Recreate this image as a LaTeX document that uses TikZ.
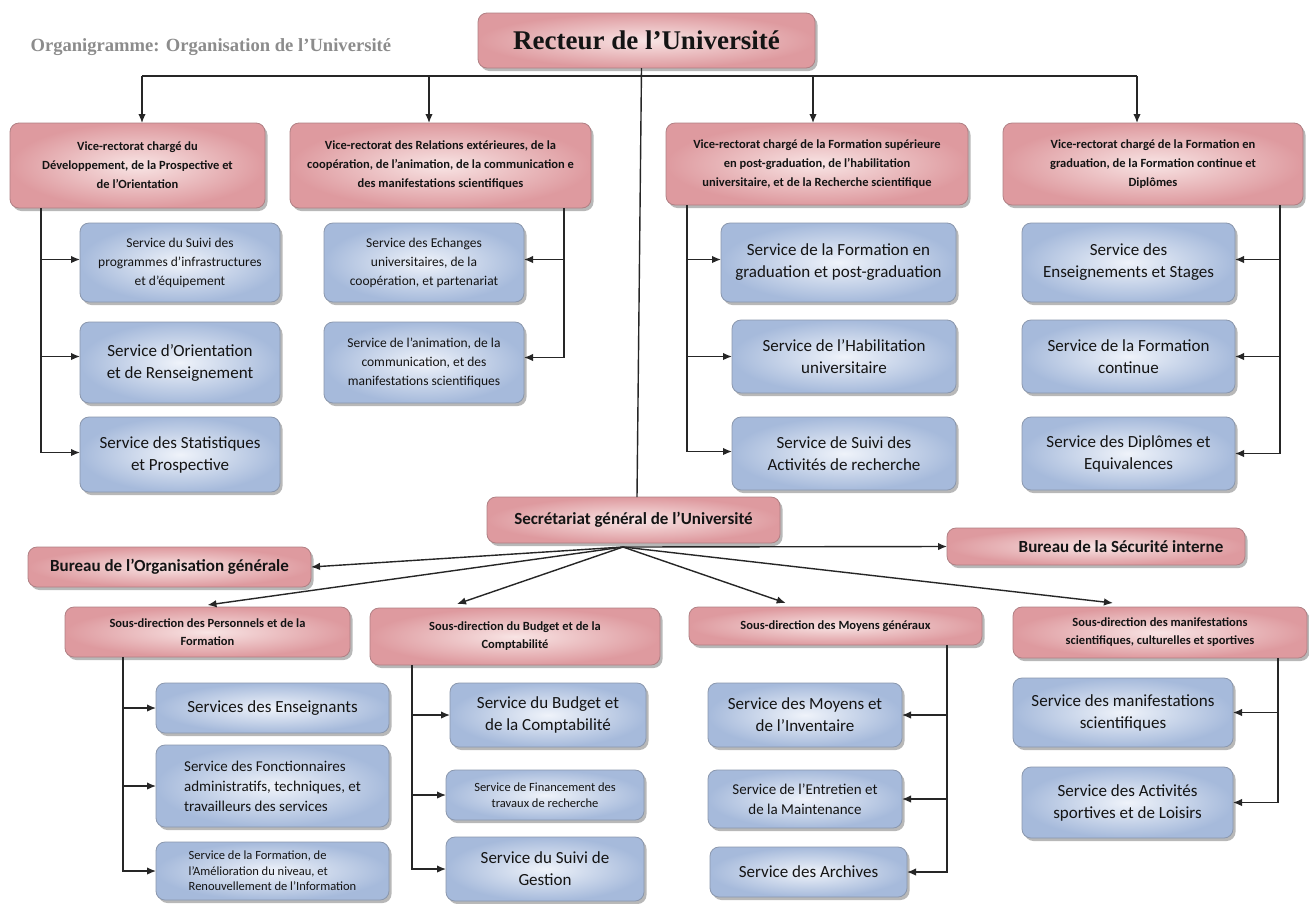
\documentclass[tikz,border=0pt]{standalone}
\usepackage{fontspec}
\setmainfont{Carlito}
\newfontfamily\serifb{Liberation Serif}
\usetikzlibrary{arrows.meta,shadows,calc}
\definecolor{pinkL}{HTML}{F8E4E4}
\definecolor{pinkD}{HTML}{DE9A9F}
\definecolor{pinkB}{HTML}{B08084}
\definecolor{blueL}{HTML}{EFF3FA}
\definecolor{blueD}{HTML}{A6BADB}
\definecolor{blueB}{HTML}{8A97AD}
\tikzset{
  box/.style={rounded corners=9pt, inner sep=2pt, outer sep=0pt, align=center, text=black!92,
    drop shadow={shadow xshift=2.5pt,shadow yshift=-3pt,opacity=0.5,fill=black!55}},
  pinkbox/.style={box, draw=pinkB, line width=0.8pt, inner color=pinkL, outer color=pinkD},
  bluebox/.style={box, draw=blueB, line width=0.8pt, inner color=blueL, outer color=blueD},
  arr/.style={-{Latex[length=9pt,width=7.5pt]}, line width=1.4pt, draw=black!85},
  ln/.style={line width=1.4pt, draw=black!85},
  vr/.style={font=\bfseries\fontsize{12.5}{19}\selectfont},
  sd/.style={font=\bfseries\fontsize{12.5}{18}\selectfont},
  bur/.style={font=\bfseries\fontsize{17}{20}\selectfont},
  big/.style={font=\fontsize{17}{22}\selectfont},
  mid/.style={font=\fontsize{15}{20}\selectfont},
  sml/.style={font=\fontsize{13.5}{19}\selectfont},
  tiny/.style={font=\fontsize{12.5}{15.5}\selectfont},
}
\begin{document}
\begin{tikzpicture}[x=1pt,y=-1pt]
\fill[white] (0,0) rectangle (1309,903);
\useasboundingbox (0,0) rectangle (1309,903);

% title
\node[anchor=west, text=black!45, font=\serifb\bfseries\fontsize{18.6}{21}\selectfont] (title) at (27,47) {Organigramme: Organisation de l’Université};

% rector
\node[pinkbox, minimum width=337pt, minimum height=55pt, font=\serifb\bfseries\fontsize{27}{30}\selectfont] (rect) at (646.5,40.5) {Recteur de l’Université};

% vice-rectorats
\node[pinkbox, vr, minimum width=255pt, minimum height=85pt] (v1) at (137.5,165.5) {Vice-rectorat chargé du\\Développement, de la Prospective et\\de l’Orientation};
\node[pinkbox, vr, minimum width=301pt, minimum height=85pt] (v2) at (440.5,165.5) {Vice-rectorat des Relations extérieures, de la\\coopération, de l’animation, de la communication e\\des manifestations scientifiques};
\node[pinkbox, vr, minimum width=302pt, minimum height=82pt] (v3) at (817,164) {Vice-rectorat chargé de la Formation supérieure\\en post-graduation, de l’habilitation\\universitaire, et de la Recherche scientifique};
\node[pinkbox, vr, minimum width=300pt, minimum height=82pt] (v4) at (1153,164) {Vice-rectorat chargé de la Formation en\\graduation, de la Formation continue et\\Diplômes};

% services, upper level
\node[bluebox, sml, minimum width=200pt, minimum height=79pt] (s1a) at (180,262.5) {Service du Suivi des\\programmes d’infrastructures\\et d’équipement};
\node[bluebox, big, minimum width=200pt, minimum height=81pt] (s1b) at (180,362.5) {Service d’Orientation\\et de Renseignement};
\node[bluebox, big, minimum width=200pt, minimum height=75pt] (s1c) at (180,454.5) {Service des Statistiques\\et Prospective};

\node[bluebox, sml, minimum width=200pt, minimum height=79pt] (s2a) at (424,262.5) {Service des Echanges\\universitaires, de la\\coopération, et partenariat};
\node[bluebox, sml, minimum width=200pt, minimum height=81pt] (s2b) at (424,362.5) {Service de l’animation, de la\\communication, et des\\manifestations scientifiques};

\node[bluebox, big, minimum width=235pt, minimum height=79pt] (s3a) at (838.5,262.5) {Service de la Formation en\\graduation et post-graduation};
\node[bluebox, big, minimum width=224pt, minimum height=73pt] (s3b) at (844,356.5) {Service de l’Habilitation\\universitaire};
\node[bluebox, big, minimum width=224pt, minimum height=73pt] (s3c) at (844,453.5) {Service de Suivi des\\Activités de recherche};

\node[bluebox, big, minimum width=213pt, minimum height=79pt] (s4a) at (1128.5,262.5) {Service des\\Enseignements et Stages};
\node[bluebox, big, minimum width=213pt, minimum height=73pt] (s4b) at (1128.5,356.5) {Service de la Formation\\continue};
\node[bluebox, big, minimum width=213pt, minimum height=73pt] (s4c) at (1128.5,453.5) {Service des Diplômes et\\Equivalences};

% secretariat
\node[pinkbox, bur, minimum width=293pt, minimum height=46pt] (sec) at (633.5,520) {Secrétariat général de l’Université};
\node[pinkbox, bur, minimum width=283pt, minimum height=40pt] (bo) at (169.5,567) {Bureau de l’Organisation générale};
\node[pinkbox, bur, minimum width=298pt, minimum height=37pt] (bs) at (1096,546.5) {\hspace*{50pt}Bureau de la Sécurité interne};

\node[pinkbox, sd, minimum width=285pt, minimum height=50pt] (d1) at (207.5,632) {Sous-direction des Personnels et de la\\Formation};
\node[pinkbox, sd, minimum width=290pt, minimum height=57pt] (d2) at (515,636.5) {Sous-direction du Budget et de la\\Comptabilité};
\node[pinkbox, sd, minimum width=293pt, minimum height=38pt] (d3) at (835.5,626) {Sous-direction des Moyens généraux};
\node[pinkbox, sd, minimum width=294pt, minimum height=51pt] (d4) at (1160,632.5) {Sous-direction des manifestations\\scientifiques, culturelles et sportives};

% services, lower level
\node[bluebox, big, minimum width=233pt, minimum height=50pt] (e1a) at (272.5,708) {Services des Enseignants};
\node[bluebox, mid, align=left, minimum width=233pt, minimum height=82pt] (e1b) at (272.5,786) {Service des Fonctionnaires\\administratifs, techniques, et\\travailleurs des services};
\node[bluebox, tiny, align=left, minimum width=233pt, minimum height=58pt] (e1c) at (272.5,871) {Service de la Formation, de\\l’Amélioration du niveau, et\\Renouvellement de l’Information};

\node[bluebox, big, minimum width=196pt, minimum height=64pt] (e2a) at (548,715) {Service du Budget et\\de la Comptabilité};
\node[bluebox, tiny, minimum width=198pt, minimum height=50pt] (e2b) at (545,795) {Service de Financement des\\travaux de recherche};
\node[bluebox, big, minimum width=198pt, minimum height=64pt] (e2c) at (545,869) {Service du Suivi de\\Gestion};

\node[bluebox, big, minimum width=194pt, minimum height=64pt] (e3a) at (805,715) {Service des Moyens et\\de l’Inventaire};
\node[bluebox, mid, minimum width=194pt, minimum height=58pt] (e3b) at (805,799) {Service de l’Entretien et\\de la Maintenance};
\node[bluebox, big, minimum width=197pt, minimum height=50pt] (e3c) at (808.5,872) {Service des Archives};

\node[bluebox, big, minimum width=220pt, minimum height=69pt] (e4a) at (1123,712.5) {Service des manifestations\\scientifiques};
\node[bluebox, big, minimum width=211pt, minimum height=71pt] (e4b) at (1127.5,802.5) {Service des Activités\\sportives et de Loisirs};

% ---- connectors: rector level
\coordinate (hl) at (142,76);
\coordinate (hr) at (1137,76);
\coordinate (h2) at (429,76);
\coordinate (h3) at (813,76);
\draw[ln] (hl) -- (hr);
\draw[arr] (hl) -- (hl |- v1.north);
\draw[arr] (h2) -- (h2 |- v2.north);
\draw[arr] (h3) -- (h3 |- v3.north);
\draw[arr] (hr) -- (hr |- v4.north);
\draw[ln] ([xshift=-5pt]rect.south) -- ([xshift=3.5pt]sec.north);

% vice-rectorat trunks
\path (v1.south) ++(-96.5,0) coordinate (t1);
\path (v2.south) ++(123.5,0) coordinate (t2);
\path (v3.south) ++(-130,0) coordinate (t3);
\path (v4.south) ++(127,0) coordinate (t4);
\draw[arr] (t1) |- ([yshift=3pt]s1a.west);
\draw[arr] (t1) |- ([yshift=6pt]s1b.west);
\draw[arr] (t1) |- ([yshift=2pt]s1c.west);
\draw[arr] (t2) |- ([yshift=3pt]s2a.east);
\draw[arr] (t2) |- ([yshift=5pt]s2b.east);
\draw[arr] (t3) |- ([yshift=3pt]s3a.west);
\draw[arr] (t3) |- (s3b.west);
\draw[arr] (t3) |- ([yshift=2pt]s3c.west);
\draw[arr] (t4) |- ([yshift=3pt]s4a.east);
\draw[arr] (t4) |- (s4b.east);
\draw[arr] (t4) |- (s4c.east);

% secretariat fan
\path (sec.south) ++(-10.5,4) coordinate (fan);
\draw[arr] (fan) -- (bo.east);
\draw[arr] (fan) -- (bs.west);
\draw[arr] (fan) -- ([yshift=2pt]d1.north);
\draw[arr] (fan) -- ([yshift=4pt]$(d2.north west)!0.3!(d2.north east)$);
\draw[arr] (fan) -- ([yshift=4pt]$(d3.north west)!0.33!(d3.north east)$);
\draw[arr] (fan) -- ([yshift=4pt]$(d4.north west)!0.34!(d4.north east)$);

% sous-direction trunks
\path (d1.south) ++(-84.5,0) coordinate (u1);
\path (d2.south) ++(-103,0) coordinate (u2);
\path (d3.south) ++(111.5,0) coordinate (u3);
\path (d4.south) ++(118,0) coordinate (u4);
\draw[arr] (u1) |- (e1a.west);
\draw[arr] (u1) |- (e1b.west);
\draw[arr] (u1) |- (e1c.west);
\draw[arr] (u2) |- (e2a.west);
\draw[arr] (u2) |- (e2b.west);
\draw[arr] (u2) |- (e2c.west);
\draw[arr] (u3) |- (e3a.east);
\draw[arr] (u3) |- (e3b.east);
\draw[arr] (u3) |- (e3c.east);
\draw[arr] (u4) |- (e4a.east);
\draw[arr] (u4) |- (e4b.east);
\end{tikzpicture}
\end{document}
